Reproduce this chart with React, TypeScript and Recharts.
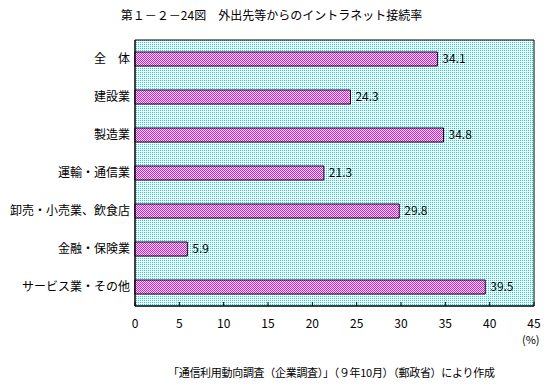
import React from 'react';
import {
  BarChart,
  Bar,
  XAxis,
  YAxis,
  ReferenceArea,
  LabelList,
} from 'recharts';

const categories = [
  '全　体',
  '建設業',
  '製造業',
  '運輸・通信業',
  '卸売・小売業、飲食店',
  '金融・保険業',
  'サービス業・その他',
];
const rates = [34.1, 24.3, 34.8, 21.3, 29.8, 5.9, 39.5];
const xTicks = [0, 5, 10, 15, 20, 25, 30, 35, 40, 45];
const edgeTicks = [1, 2, 3, 4, 5, 6];

const data = categories.map((name, i) => ({ name, rate: rates[i] }));

const font = "'Noto Sans CJK JP', 'Noto Sans', sans-serif";

const EmptyTick = () => <g />;

const App: React.FC = () => {
  return (
    <div
      style={{
        position: 'absolute',
        left: 0,
        top: 0,
        width: 551,
        height: 389,
        background: '#fff',
        fontFamily: font,
        color: '#000',
      }}
    >
      {/* dither patterns like the original bitmap */}
      <svg width={0} height={0} style={{ position: 'absolute' }}>
        <defs>
          <pattern id="barDots" width={2} height={2} patternUnits="userSpaceOnUse">
            <rect width={2} height={2} fill="#fff" />
            <rect x={0} y={0} width={1} height={1} fill="#ff00ff" />
            <rect x={1} y={1} width={1} height={1} fill="#ff00ff" />
          </pattern>
          <pattern id="bgDots" width={2} height={2} patternUnits="userSpaceOnUse">
            <rect width={2} height={2} fill="#fff" />
            <rect x={0} y={0} width={1} height={1} fill="#00e0e0" />
          </pattern>
        </defs>
      </svg>

      <div
        style={{
          position: 'absolute',
          top: 6,
          left: 0,
          width: 543,
          textAlign: 'center',
          fontSize: 12,
        }}
      >
        第１－２－24図　外出先等からのイントラネット接続率
      </div>

      <BarChart
        width={551}
        height={389}
        data={data}
        layout="vertical"
        margin={{ top: 40, right: 17, bottom: 53, left: 0 }}
      >
        <XAxis
          type="number"
          domain={[0, 45]}
          ticks={xTicks}
          interval={0}
          height={30}
          tickSize={-4}
          tickMargin={17}
          axisLine={{ stroke: '#000' }}
          tickLine={{ stroke: '#000' }}
          tick={{ fill: '#000', fontSize: 12, fontFamily: font }}
        />
        <YAxis
          yAxisId="edge"
          type="number"
          domain={[0, 7]}
          ticks={edgeTicks}
          width={0}
          tickSize={-4}
          axisLine={false}
          tickLine={{ stroke: '#000' }}
          tick={<EmptyTick />}
        />
        <YAxis
          yAxisId="cat"
          type="category"
          dataKey="name"
          width={135}
          tickSize={0}
          tickMargin={5}
          tickLine={false}
          axisLine={{ stroke: '#000' }}
          tick={{ fill: '#000', fontSize: 12, fontFamily: font }}
        />
        <ReferenceArea
          yAxisId="cat"
          x1={0}
          x2={45}
          fill="url(#bgDots)"
          fillOpacity={1}
          stroke="#000"
          strokeWidth={1}
        />
        <Bar
          yAxisId="cat"
          dataKey="rate"
          barSize={14}
          fill="url(#barDots)"
          stroke="#000"
          strokeWidth={1}
          isAnimationActive={false}
        >
          <LabelList
            dataKey="rate"
            position="right"
            offset={5}
            fill="#000"
            fontSize={12}
            fontFamily={font}
          />
        </Bar>
      </BarChart>

      <div style={{ position: 'absolute', top: 333, left: 522, fontSize: 11, lineHeight: '13px' }}>(%)</div>

      <div
        style={{
          position: 'absolute',
          top: 364,
          left: 168,
          fontSize: 11,
          letterSpacing: -0.3,
          whiteSpace: 'nowrap',
        }}
      >
        「通信利用動向調査（企業調査）」（９年10月）（郵政省）により作成
      </div>
    </div>
  );
};

export default App;
